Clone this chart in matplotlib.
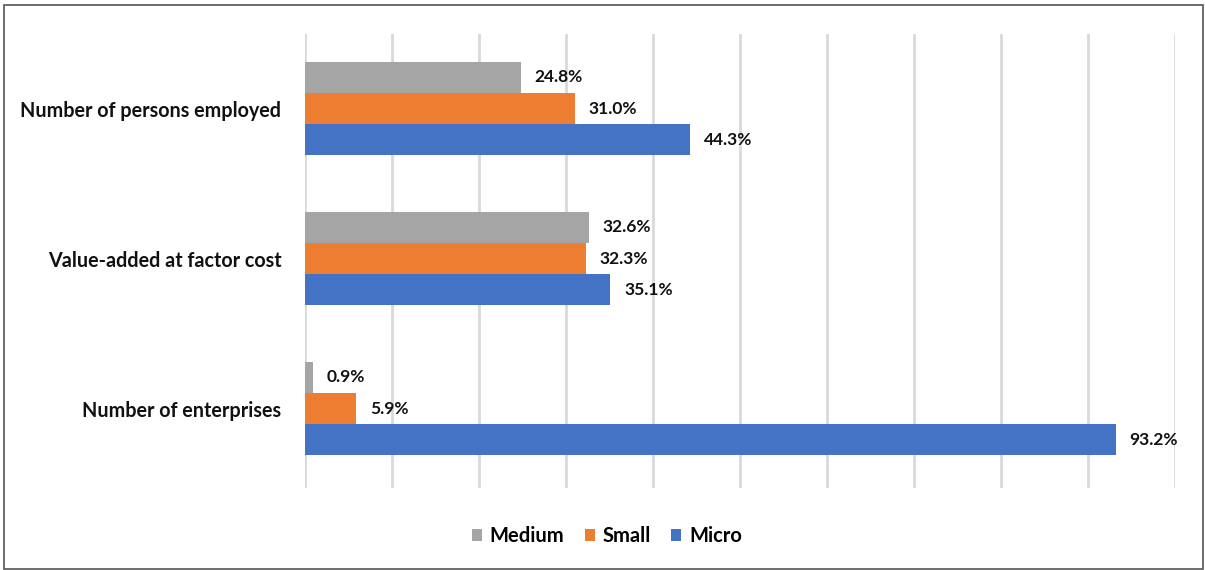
import matplotlib
matplotlib.use("Agg")
import matplotlib.pyplot as plt
from matplotlib.patches import Rectangle, Patch
import numpy as np

categories = ["Number of persons employed", "Value-added at factor cost", "Number of enterprises"]
series = ["Medium", "Small", "Micro"]
medium = [24.8, 32.6, 0.9]
small = [31.0, 32.3, 5.9]
micro = [44.3, 35.1, 93.2]
colors = ["#A5A5A5", "#ED7D31", "#4472C4"]

plt.rcParams["font.family"] = ["Lato", "DejaVu Sans"]

fig = plt.figure(figsize=(12.05, 5.70), dpi=100)
ax = fig.add_axes([305 / 1205, 1 - 488 / 570, 870 / 1205, 454 / 570])

bar_h = 0.207
y = np.arange(len(categories))
values = [medium, small, micro]
for i, (name, vals, c) in enumerate(zip(series, values, colors)):
    pos = y + (i - 1) * bar_h
    ax.barh(pos, vals, height=bar_h, color=c, label=name, zorder=3)
    for p, v in zip(pos, vals):
        ax.annotate(f"{v:.1f}%", (v, p), xytext=(10, 0), textcoords="offset points",
                    ha="left", va="center", fontsize=12.5, fontweight="bold", color="#111111")

ax.set_xlim(0, 100)
ax.set_ylim(2.53, -0.497)
ax.set_xticks(np.arange(0, 101, 10))
ax.set_xticklabels([])
ax.tick_params(axis="x", length=0)
ax.tick_params(axis="y", length=0, pad=17)
ax.set_yticks(y)
ax.set_yticklabels(categories, fontsize=14.2, fontweight="bold", color="#111111")
ax.grid(axis="x", color="#D9D9D9", linewidth=2, zorder=0)
for s in ax.spines.values():
    s.set_visible(False)

handles = [Patch(facecolor=c, label=n) for n, c in zip(series, colors)]
fig.legend(handles=handles, loc="center", bbox_to_anchor=(607 / 1205, 1 - 536 / 570),
           ncol=3, frameon=False, prop={"weight": "bold", "size": 14.5},
           handlelength=0.5, handleheight=0.5, handletextpad=0.4, columnspacing=1.0)

fig.patches.append(Rectangle((4 / 1205, 0.002), 1 - 6 / 1205, 1 - 6 / 570, transform=fig.transFigure,
                             fill=False, edgecolor="#555555", linewidth=1.2))

fig.savefig("out.png", dpi=100, facecolor="white")
